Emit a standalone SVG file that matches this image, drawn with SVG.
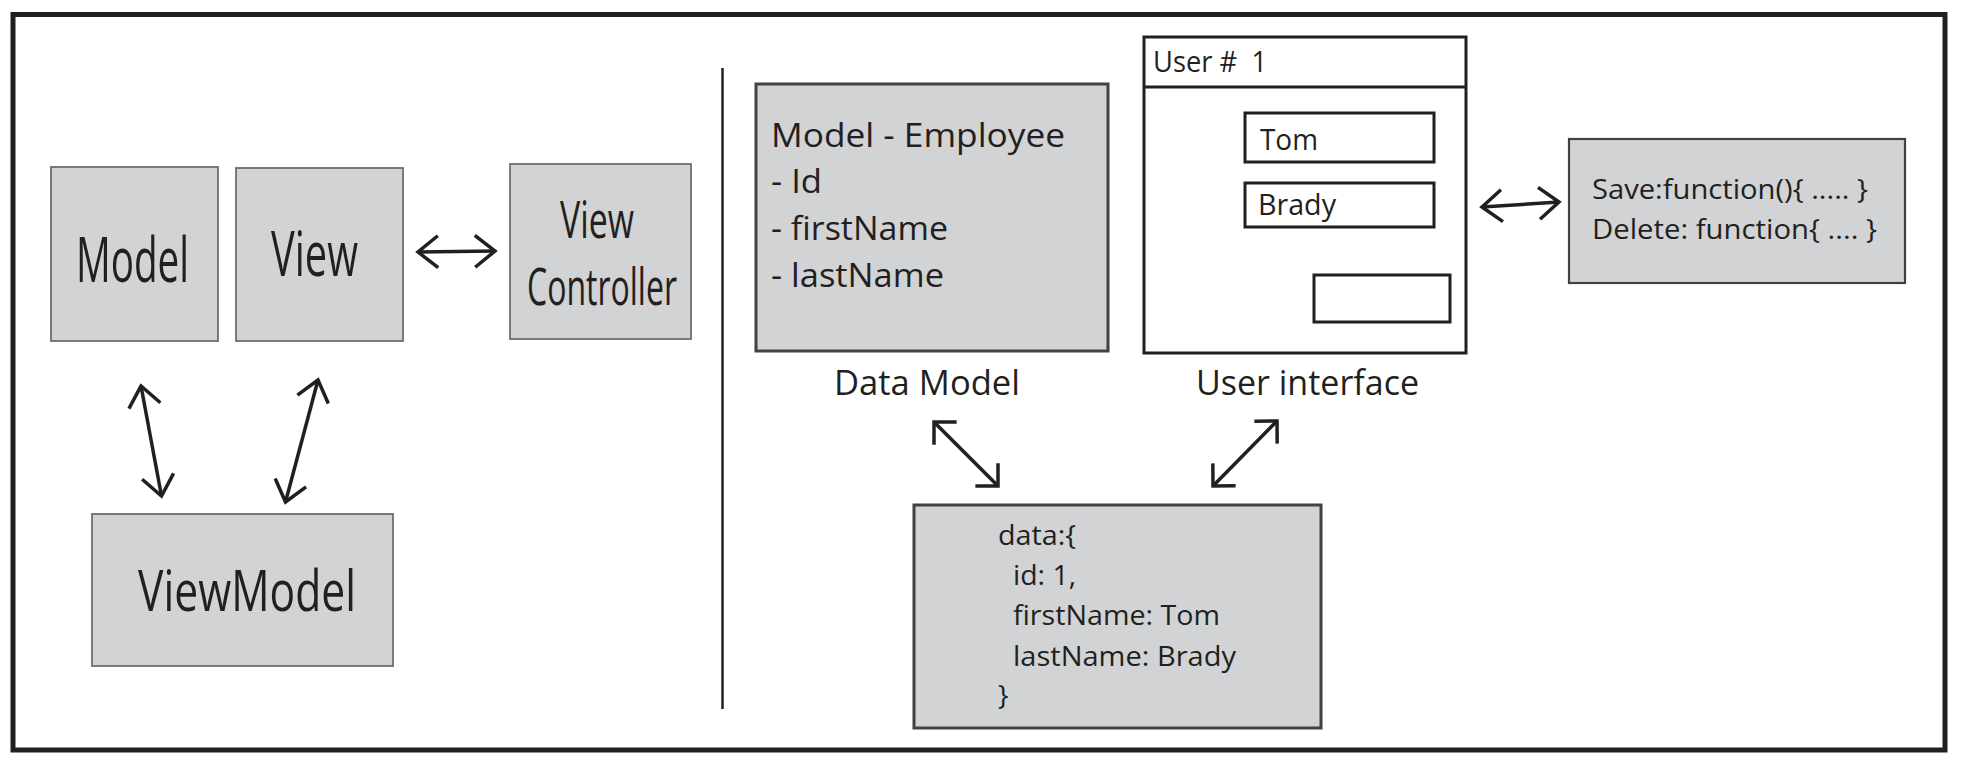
<svg xmlns="http://www.w3.org/2000/svg" width="1964" height="760" viewBox="0 0 1964 760">
<style>
.t{font-family:"Open Sans","Noto Sans","Liberation Sans",sans-serif;fill:#231f20;white-space:pre}
.g1{fill:#d1d3d4;stroke:#6d6e71;stroke-width:1.8}
.g2{fill:#d1d3d4;stroke:#414042;stroke-width:3}
.w{fill:#ffffff;stroke:#231f20;stroke-width:3}
.c{fill:none;stroke:#231f20;stroke-width:3.5}
</style>
<defs>
<marker id="ah" markerUnits="userSpaceOnUse" markerWidth="50" markerHeight="50" refX="0" refY="0" orient="auto-start-reverse" overflow="visible">
<path d="M-20,-16 L0,0 L-20,16" fill="none" stroke="#231f20" stroke-width="3.5"/>
</marker>
<marker id="ah2" markerUnits="userSpaceOnUse" markerWidth="50" markerHeight="50" refX="0" refY="0" orient="auto-start-reverse" overflow="visible">
<path d="M-16,-16 L0,0 L-16,16" fill="none" stroke="#231f20" stroke-width="3.5"/>
</marker>
</defs>
<rect x="0" y="0" width="1964" height="760" fill="#ffffff"/>
<rect id="frame" x="13" y="14.5" width="1932" height="735.5" fill="none" stroke="#231f20" stroke-width="5"/>
<line id="divider" x1="722.5" y1="68" x2="722.5" y2="709" stroke="#231f20" stroke-width="2.5"/>

<g id="model">
<rect class="g1" x="51" y="167" width="167" height="174"/>
<text class="t" x="76" y="282" font-size="63" textLength="113" lengthAdjust="spacingAndGlyphs">Model</text>
</g>
<g id="view">
<rect class="g1" x="236" y="168" width="167" height="173"/>
<text class="t" x="271" y="276" font-size="63" textLength="87" lengthAdjust="spacingAndGlyphs">View</text>
</g>
<g id="viewcontroller">
<rect class="g1" x="510" y="164" width="181" height="175"/>
<text class="t" x="560" y="238" font-size="52" textLength="74" lengthAdjust="spacingAndGlyphs">View</text>
<text class="t" x="527" y="305" font-size="52" textLength="150" lengthAdjust="spacingAndGlyphs">Controller</text>
</g>
<g id="viewmodel">
<rect class="g1" x="92" y="514" width="301" height="152"/>
<text class="t" x="138" y="611" font-size="57" textLength="218" lengthAdjust="spacingAndGlyphs">ViewModel</text>
</g>

<g id="datamodel">
<rect class="g2" x="756" y="84" width="352" height="267"/>
<text class="t" x="771" y="147" font-size="33" textLength="294" lengthAdjust="spacingAndGlyphs">Model - Employee</text>
<text class="t" x="771" y="193" font-size="33" textLength="51" lengthAdjust="spacingAndGlyphs">- Id</text>
<text class="t" x="771" y="240" font-size="33" textLength="177" lengthAdjust="spacingAndGlyphs">- firstName</text>
<text class="t" x="771" y="287" font-size="33" textLength="173" lengthAdjust="spacingAndGlyphs">- lastName</text>
<text class="t" x="834" y="395" font-size="34" textLength="186" lengthAdjust="spacingAndGlyphs">Data Model</text>
</g>

<g id="userinterface">
<rect class="w" x="1144" y="37" width="322" height="316"/>
<line x1="1144" y1="87" x2="1466" y2="87" stroke="#231f20" stroke-width="3"/>
<text class="t" x="1153" y="72" font-size="30" textLength="114" lengthAdjust="spacingAndGlyphs">User #  1</text>
<rect class="w" x="1245" y="113" width="189" height="49"/>
<text class="t" x="1260" y="150" font-size="30" textLength="58" lengthAdjust="spacingAndGlyphs">Tom</text>
<rect class="w" x="1245" y="183" width="189" height="44"/>
<text class="t" x="1258" y="215" font-size="30" textLength="78" lengthAdjust="spacingAndGlyphs">Brady</text>
<rect class="w" x="1314" y="275" width="136" height="47"/>
<text class="t" x="1196" y="395" font-size="34" textLength="223" lengthAdjust="spacingAndGlyphs">User interface</text>
</g>

<g id="functions">
<rect class="g2" x="1569" y="139" width="336" height="144" style="stroke-width:2.2"/>
<text class="t" x="1592" y="199" font-size="27" textLength="276" lengthAdjust="spacingAndGlyphs">Save:function(){ ..... }</text>
<text class="t" x="1592" y="239" font-size="27" textLength="285" lengthAdjust="spacingAndGlyphs">Delete: function{ .... }</text>
</g>

<g id="data">
<rect class="g2" x="914" y="505" width="407" height="223"/>
<text class="t" x="998" y="545" font-size="28" textLength="78" lengthAdjust="spacingAndGlyphs">data:{</text>
<text class="t" x="1013" y="585" font-size="28" textLength="63" lengthAdjust="spacingAndGlyphs">id: 1,</text>
<text class="t" x="1013" y="625" font-size="28" textLength="207" lengthAdjust="spacingAndGlyphs">firstName: Tom</text>
<text class="t" x="1013" y="666" font-size="28" textLength="223" lengthAdjust="spacingAndGlyphs">lastName: Brady</text>
<text class="t" x="998" y="705" font-size="28">}</text>
</g>

<g id="connectors">
<line class="c" x1="418" y1="252" x2="495" y2="251" marker-start="url(#ah)" marker-end="url(#ah)"/>
<line class="c" x1="141" y1="386" x2="161.5" y2="496" marker-start="url(#ah)" marker-end="url(#ah)"/>
<line class="c" x1="318" y1="380" x2="285.5" y2="502" marker-start="url(#ah)" marker-end="url(#ah)"/>
<line class="c" x1="934" y1="422" x2="998" y2="486" marker-start="url(#ah2)" marker-end="url(#ah2)"/>
<line class="c" x1="1277" y1="421" x2="1213" y2="486" marker-start="url(#ah2)" marker-end="url(#ah2)"/>
<line class="c" x1="1482" y1="207" x2="1559" y2="202" marker-start="url(#ah)" marker-end="url(#ah)"/>
</g>
</svg>
